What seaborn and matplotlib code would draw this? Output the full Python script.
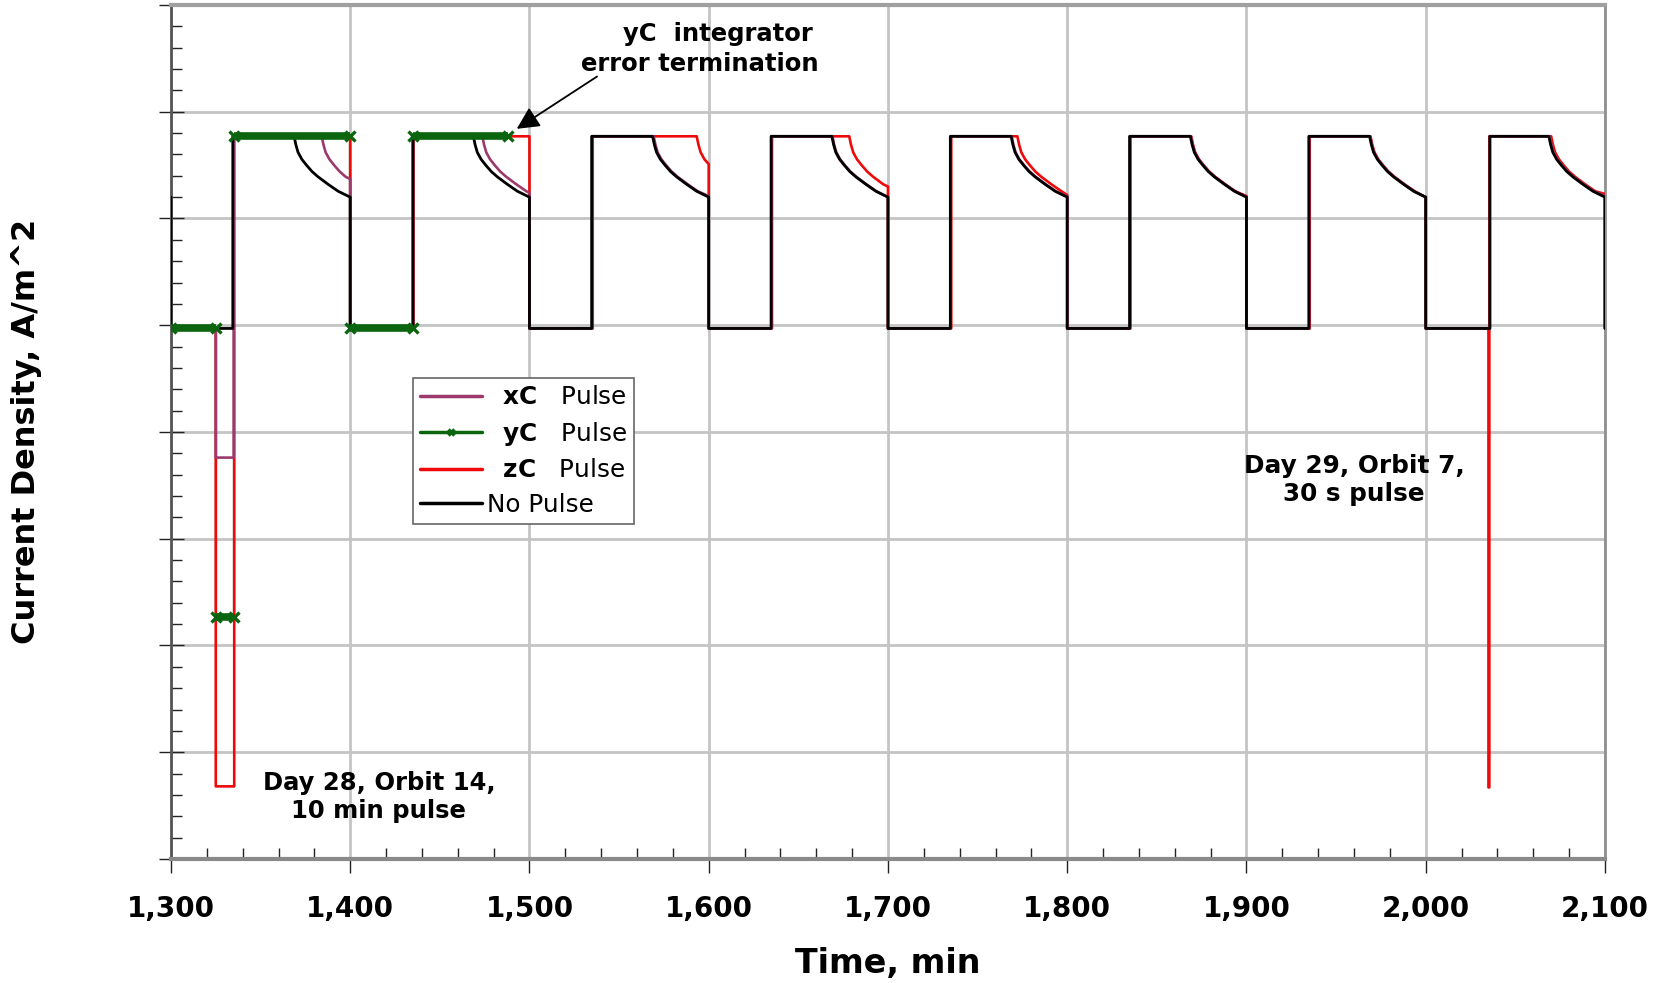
import numpy as np
import pandas as pd
import matplotlib
matplotlib.use("Agg")
import matplotlib.pyplot as plt
import seaborn as sns
from matplotlib.lines import Line2D
from matplotlib.ticker import MultipleLocator, FuncFormatter

# ---------------- data ----------------
BASE = -0.03
PLATEAU = 1.77

cycle_off = [1400, 1500, 1600, 1700, 1800, 1900, 2000, 2100]

# shared decay shape after the plateau (minutes after decay start, value)
decay_dt = [0.0, 1.0, 2.2, 4.3, 6.9, 10.0, 13.4, 19.0, 24.6, 31.1]
decay_val = [1.77, 1.69, 1.62, 1.555, 1.50, 1.44, 1.39, 1.32, 1.255, 1.20]

# No Pulse (black)
nopulse_on = [1334.5, 1435.0, 1534.7, 1634.8, 1734.8, 1834.8, 1934.8, 2035.8]
nopulse_decay = [1368.7, 1468.7, 1568.7, 1668.7, 1768.7, 1868.7, 1968.7, 2068.7]
nopulse_end = [1.20, 1.20, 1.20, 1.20, 1.20, 1.20, 1.20, 1.20]
nopulse_start = 1.20

# xC Pulse (purple)
xc_on = [1335.0, 1435.0, 1535.0, 1635.0, 1735.0, 1835.0, 1935.0, 2035.8]
xc_decay = [1384.1, 1473.7, 1569.3, 1669.0, 1769.0, 1869.0, 1969.0, 2069.2]
xc_end = [1.37, 1.24, 1.21, 1.20, 1.21, 1.20, 1.20, 1.21]
xc_pulse = {0: (1325.0, 1335.0, -1.24)}

# zC Pulse (red)
zc_on = [1335.3, 1435.3, 1535.3, 1635.3, 1735.3, 1835.3, 1935.3, 2035.5]
zc_decay = [1400.0, 1500.0, 1593.3, 1678.4, 1772.2, 1869.2, 1969.2, 2070.0]
zc_end = [1.77, 1.77, 1.51, 1.30, 1.22, 1.21, 1.20, 1.23]
zc_pulse = {0: (1325.0, 1335.3, -4.32), 7: (2035.0, 2035.5, -4.33)}

# yC Pulse (green) - terminated by integrator error
yc_t = [1300.0, 1325.0, 1325.0, 1335.0, 1335.0, 1400.0, 1400.0, 1435.0, 1435.0, 1488.0]
yc_y = [BASE, BASE, -2.73, -2.73, PLATEAU, PLATEAU, BASE, BASE, PLATEAU, PLATEAU]


def build_series(on, decay, end, start_val, pulses=None):
    pulses = pulses or {}
    t = [1300.0, 1300.0]
    y = [start_val, BASE]
    for i, (ton, toff, ds, ye) in enumerate(zip(on, cycle_off, decay, end)):
        if i in pulses:
            ps, pe, depth = pulses[i]
            t += [ps, ps, pe, pe]
            y += [BASE, depth, depth, PLATEAU]
        else:
            t += [ton, ton]
            y += [BASE, PLATEAU]
        for dt, v in zip(decay_dt, decay_val):
            if ds + dt < toff - 0.3:
                t.append(ds + dt)
                y.append(v)
        t += [toff, toff]
        y += [ye, BASE]
    return pd.DataFrame({"t": t, "y": y})


black_df = build_series(nopulse_on, nopulse_decay, nopulse_end, nopulse_start)
xc_df = build_series(xc_on, xc_decay, xc_end, BASE, xc_pulse)
zc_df = build_series(zc_on, zc_decay, zc_end, BASE, zc_pulse)
yc_df = pd.DataFrame({"t": yc_t, "y": yc_y})

C_BLACK = "#000000"
C_XC = "#9c3a6e"
C_YC = "#0b650f"
C_ZC = "#ee0a0a"

# ---------------- plot ----------------
sns.set_theme(style="white")
plt.rcParams["font.family"] = ["DejaVu Sans"]
plt.rcParams["text.color"] = "black"
plt.rcParams["axes.labelcolor"] = "black"
plt.rcParams["xtick.color"] = "black"
plt.rcParams["ytick.color"] = "black"

fig = plt.figure(figsize=(16.63, 9.83), dpi=100)
ax = fig.add_axes([0.1028, 0.1262, 0.8623, 0.8687])

sns.lineplot(data=yc_df, x="t", y="y", sort=False, estimator=None, color=C_YC,
             lw=1.6, ax=ax, zorder=2)
sns.lineplot(data=zc_df, x="t", y="y", sort=False, estimator=None, color=C_ZC,
             lw=1.9, ax=ax, zorder=3)
sns.lineplot(data=xc_df, x="t", y="y", sort=False, estimator=None, color=C_XC,
             lw=1.9, ax=ax, zorder=4)
sns.lineplot(data=black_df, x="t", y="y", sort=False, estimator=None, color=C_BLACK,
             lw=2.0, ax=ax, zorder=5)
# thick marker bands on the horizontal parts of yC
for i in range(len(yc_t) - 1):
    if yc_y[i] == yc_y[i + 1]:
        ax.plot([yc_t[i], yc_t[i + 1]], [yc_y[i], yc_y[i + 1]], color=C_YC, lw=5.5,
                solid_capstyle="butt", marker="x", ms=6.5, mew=2.4, zorder=7)

ax.set_xlim(1300, 2100)
ax.set_ylim(-5, 3)
ax.xaxis.set_major_locator(MultipleLocator(100))
ax.xaxis.set_minor_locator(MultipleLocator(20))
ax.yaxis.set_major_locator(MultipleLocator(1))
ax.yaxis.set_minor_locator(MultipleLocator(0.2))
ax.xaxis.set_major_formatter(FuncFormatter(lambda v, p: f"{int(round(v)):,}"))
ax.yaxis.set_major_formatter(FuncFormatter(lambda v, p: ""))

ax.grid(True, which="major", color="#c4c4c4", lw=2.0)
ax.set_axisbelow(True)

ax.tick_params(axis="x", which="major", direction="out", length=10, width=1,
               color="#222222", labelsize=20, labelcolor="black", pad=16, bottom=True)
ax.tick_params(axis="x", which="minor", direction="in", length=8, width=1,
               color="#222222", bottom=True)
ax.tick_params(axis="y", which="major", direction="inout", length=18, width=1,
               color="#222222", left=True)
ax.tick_params(axis="y", which="minor", direction="in", length=8, width=1,
               color="#222222", left=True)
for lab in ax.get_xticklabels():
    lab.set_fontweight("bold")

for side, col, lw in [("left", "#555555", 2.0), ("bottom", "#8a8a8a", 3.0),
                      ("top", "#a0a0a0", 3.0), ("right", "#909090", 2.0)]:
    ax.spines[side].set_visible(True)
    ax.spines[side].set_color(col)
    ax.spines[side].set_linewidth(lw)

ax.set_xlabel("Time, min", fontsize=24, fontweight="bold", color="black")
ax.xaxis.label.set_va("center")
ax.xaxis.set_label_coords(0.5, -0.122)
ax.set_ylabel("Current Density, A/m^2", fontsize=23, fontweight="bold", color="black")
ax.yaxis.label.set_va("center")
ax.yaxis.set_label_coords(-0.1008, 0.501)

# annotations
ax.text(1416, -4.42, "Day 28, Orbit 14,\n10 min pulse", ha="center", va="center",
        fontsize=17.5, fontweight="bold", linespacing=1.2, color="black", zorder=8)
ax.text(1960, -1.45, "Day 29, Orbit 7,\n30 s pulse", ha="center", va="center",
        fontsize=17.8, fontweight="bold", linespacing=1.2, color="black", zorder=8)
ax.text(1605, 2.73, "yC  integrator", ha="center", va="center",
        fontsize=17.5, fontweight="bold", color="black", zorder=8)
ax.text(1595, 2.45, "error termination", ha="center", va="center",
        fontsize=17.5, fontweight="bold", color="black", zorder=8)
ax.annotate("", xy=(1492.9, 1.84), xytext=(1537.7, 2.33),
            arrowprops=dict(arrowstyle="-|>", color="black", lw=1.3,
                            mutation_scale=34, shrinkA=0, shrinkB=0), zorder=8)

# legend
handles = [
    Line2D([0], [0], color=C_XC, lw=2.5),
    Line2D([0], [0], color=C_YC, lw=2.5, marker="x", ms=5, mew=2.5),
    Line2D([0], [0], color=C_ZC, lw=2.5),
    Line2D([0], [0], color=C_BLACK, lw=2.5),
]
labels = [r"  $\mathbf{xC}$   Pulse", r"  $\mathbf{yC}$   Pulse",
          r"  $\mathbf{zC}$   Pulse", "No Pulse"]
leg = ax.legend(handles, labels, loc="upper left", bbox_to_anchor=(0.1688, 0.5632),
                borderaxespad=0, fontsize=17.8, frameon=True, fancybox=False,
                edgecolor="#666666", framealpha=1, handlelength=2.5,
                handletextpad=0.2, labelspacing=0.42, numpoints=1,
                borderpad=0.3)
leg.get_frame().set_linewidth(1.2)
leg.set_zorder(10)
for txt in leg.get_texts():
    txt.set_color("black")

fig.savefig("out.png", dpi=100)
